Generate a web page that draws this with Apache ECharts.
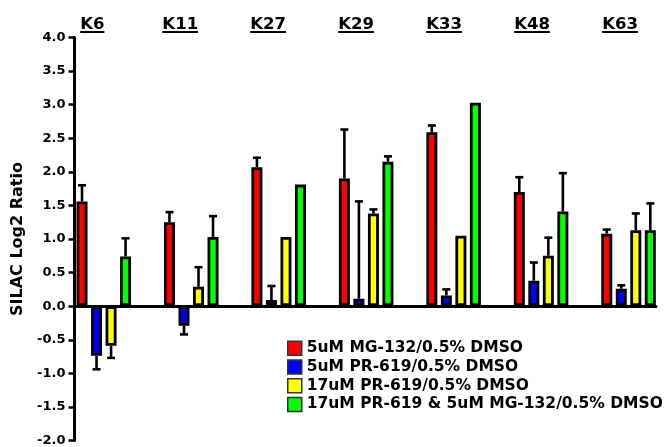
<!DOCTYPE html>
<html>
<head>
<meta charset="utf-8">
<script src="https://cdn.jsdelivr.net/npm/echarts@6/dist/echarts.min.js"></script>
<style>html,body{margin:0;padding:0;background:#fff;}#c{width:664px;height:447px;}</style>
</head>
<body>
<div id="c"></div>
<script>
const categories = ['K6', 'K11', 'K27', 'K29', 'K33', 'K48', 'K63'];
const seriesNames = ['5uM MG-132/0.5% DMSO', '5uM PR-619/0.5% DMSO', '17uM PR-619/0.5% DMSO', '17uM PR-619 & 5uM MG-132/0.5% DMSO'];
const mg132 = [1.56, 1.25, 2.07, 1.90, 2.59, 1.70, 1.08];
const pr619low = [-0.74, -0.29, 0.09, 0.11, 0.16, 0.38, 0.26];
const pr619high = [-0.59, 0.29, 1.03, 1.38, 1.05, 0.75, 1.13];
const combo = [0.74, 1.03, 1.81, 2.15, 3.03, 1.41, 1.13];
const mg132Err = [0.24, 0.15, 0.14, 0.73, 0.10, 0.22, 0.06];
const pr619lowErr = [0.20, 0.13, 0.21, 1.45, 0.09, 0.27, 0.05];
const pr619highErr = [0.18, 0.29, 0, 0.06, 0, 0.27, 0.25];
const comboErr = [0.27, 0.31, 0, 0.08, 0, 0.57, 0.40];
const yTicks = {min: -2, max: 4, interval: 0.5};

const values = [mg132, pr619low, pr619high, combo];
const errors = [mg132Err, pr619lowErr, pr619highErr, comboErr];
const colors = ['#ff0000', '#0000ff', '#ffff00', '#00ff00'];
const FONT = 'DejaVu Sans';
const BAR_W = 11, BAR_GAP = 0.32, PITCH = BAR_W * (1 + BAR_GAP);

const barSeries = values.map((vals, s) => ({
  name: seriesNames[s],
  type: 'bar',
  xAxisIndex: 0, yAxisIndex: 0,
  barWidth: BAR_W,
  barGap: (BAR_GAP * 100) + '%',
  itemStyle: {color: colors[s], borderColor: '#000', borderWidth: 2.8},
  data: vals.map((v, i) => [i, v]),
  z: 2
}));

const errData = [];
values.forEach((vals, s) => vals.forEach((v, i) => {
  if (errors[s][i] > 0) errData.push([i, v, errors[s][i], s]);
}));

const errSeries = {
  type: 'custom',
  xAxisIndex: 0, yAxisIndex: 0,
  data: errData,
  encode: {x: 0, y: 1},
  z: 3,
  silent: true,
  renderItem: function (params, api) {
    const i = api.value(0), v = api.value(1), e = api.value(2), s = api.value(3);
    const end = v >= 0 ? v + e : v - e;
    const p0 = api.coord([i, v]);
    const p1 = api.coord([i, end]);
    const x = p0[0] + (s - 1.5) * PITCH;
    const st = {stroke: '#000', lineWidth: 2.6, fill: null};
    return {
      type: 'group',
      children: [
        {type: 'line', shape: {x1: x, y1: p0[1], x2: x, y2: p1[1]}, style: st},
        {type: 'line', shape: {x1: x - 4, y1: p1[1], x2: x + 4, y2: p1[1]}, style: st}
      ]
    };
  }
};

const chart = echarts.init(document.getElementById('c'), null, {renderer: 'canvas'});
chart.setOption({
  animation: false,
  backgroundColor: '#fff',
  grid: [
    {left: 74.5, right: 8, top: 37.5, bottom: 6, containLabel: false},
    {left: 48.3, right: -8.3, top: 33, height: 10, containLabel: false}
  ],
  legend: {
    orient: 'vertical',
    left: 282, top: 334,
    itemWidth: 14, itemHeight: 14, itemGap: 0, itemTextGap: 5,
    icon: 'rect',
    itemStyle: {borderColor: '#333', borderWidth: 1.5},
    textStyle: {fontFamily: FONT, fontWeight: 'bold', fontSize: 15.5, color: '#000', lineHeight: 18.7},
    data: seriesNames
  },
  xAxis: [
    {
      type: 'value', gridIndex: 0, min: -0.335, max: 6.314,
      axisLine: {show: true, onZero: true, lineStyle: {color: '#000', width: 3}},
      axisTick: {show: false}, axisLabel: {show: false}, splitLine: {show: false}
    },
    {
      type: 'category', gridIndex: 1, position: 'top', data: categories,
      axisLine: {show: false}, axisTick: {show: false}, splitLine: {show: false},
      axisLabel: {
        margin: 0,
        formatter: function (v) { return '{t|' + v + '}\n{u|' + v + '}'; },
        rich: {
          t: {fontFamily: FONT, fontWeight: 'bold', fontSize: 16.5, color: '#000', lineHeight: 12},
          u: {fontFamily: FONT, fontWeight: 'bold', fontSize: 16.5, color: 'rgba(0,0,0,0)', height: 2, lineHeight: 2, backgroundColor: '#000'}
        }
      }
    }
  ],
  yAxis: [
    {
      type: 'value', gridIndex: 0, min: yTicks.min, max: yTicks.max, interval: yTicks.interval,
      name: 'SILAC Log2 Ratio', nameLocation: 'middle', nameGap: 46,
      nameTextStyle: {fontFamily: FONT, fontWeight: 'bold', fontSize: 16, color: '#000'},
      axisLine: {show: true, onZero: false, lineStyle: {color: '#000', width: 3}},
      axisTick: {show: true, length: 6, lineStyle: {color: '#000', width: 2.5}},
      axisLabel: {margin: 9, fontFamily: FONT, fontWeight: 'bold', fontSize: 13, color: '#000',
        formatter: function (v) { return v.toFixed(1); }},
      splitLine: {show: false}
    },
    {type: 'value', gridIndex: 1, show: false}
  ],
  series: barSeries.concat([errSeries])
});
</script>
</body>
</html>
